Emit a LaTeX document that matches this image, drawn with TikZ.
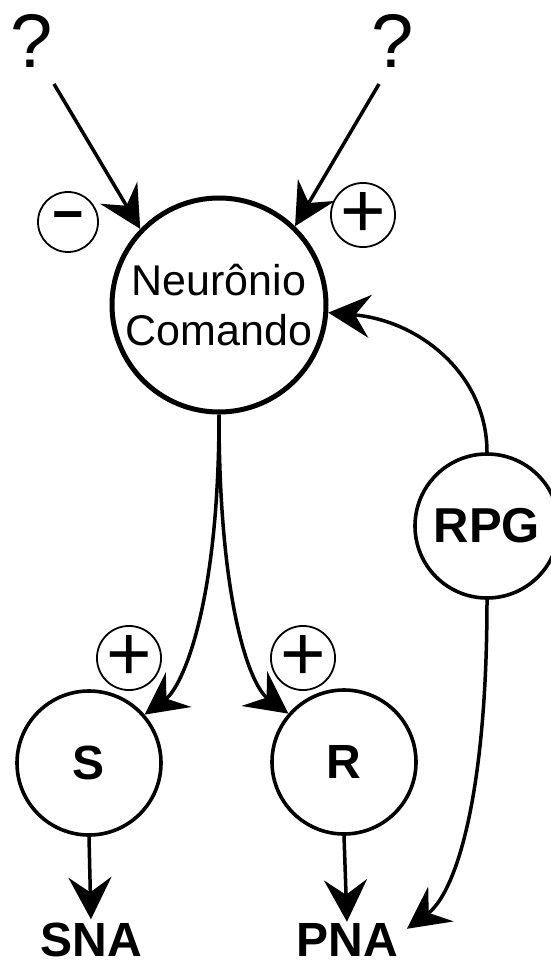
\documentclass[tikz,border=0pt]{standalone}
\usepackage{fontspec}
\setmainfont{Liberation Sans}
\usetikzlibrary{arrows.meta,calc}
\begin{document}
\begin{tikzpicture}[x=1pt,y=1pt,
  arr/.style={line width=3.5pt,-{Stealth[length=42pt,width=43pt,inset=15pt]}},
  bigcirc/.style={circle,draw,line width=3.6pt,inner sep=0pt,minimum size=144pt,font=\fontsize{48}{48}\bfseries\selectfont},
  signcirc/.style={circle,draw,line width=1.8pt,inner sep=0pt,minimum size=60pt,font=\fontsize{78}{78}\selectfont},
  qmark/.style={inner sep=0pt,font=\fontsize{76}{76}\selectfont},
  outlabel/.style={inner sep=0pt,anchor=base,font=\fontsize{48}{48}\bfseries\selectfont}
]
\useasboundingbox (0,0) rectangle (550,-968);

% question marks
\node[qmark] (q1) at (32,-41) {?};
\node[qmark] (q2) at (393,-41) {?};
\coordinate (q1s) at (54,-84);
\coordinate (q2s) at (379,-84);

% main neuron
\node[circle,draw,line width=5pt,inner sep=0pt,minimum size=214pt,align=center,
      font=\fontsize{43}{50}\selectfont] (main) at (219,-305) {Neurônio\\Comando};

% sign circles
\node[signcirc,font=\fontsize{54}{54}\bfseries\selectfont] (minus) at (68,-222) {−};
\node[signcirc] (plus1) at (363,-215) {+};
\node[signcirc] (plus2) at (129,-658) {+};
\node[signcirc] (plus3) at (303,-658) {+};

% other neurons
\node[bigcirc,font=\fontsize{49}{49}\bfseries\selectfont] (RPG) at (487,-526) {RPG};
\node[bigcirc] (S) at (89,-763) {S};
\node[bigcirc] (R) at (344,-762) {R};

% outputs
\node[outlabel] (SNA) at (91,-956) {SNA};
\node[outlabel] (PNA) at (347,-956) {PNA};

% connectors
\draw[arr] (q1s) -- (main.136);
\draw[arr] (q2s) -- (main.46);
\draw[arr] (main.south) .. controls +(0,-190) and +(38,28) .. (S.41);
\draw[arr] (main.south) .. controls +(0,-190) and +(-38,28) .. (R.139);
\draw[arr] (RPG.north) .. controls +(0,77) and +(92,-8) .. (main.-4);
\draw[arr] (RPG.south) .. controls +(0,-200) and +(48,35) .. ($(PNA.north east)+(9,-6)$);
\draw[arr,shorten >=3pt] (S.south) -- (SNA.north);
\draw[arr,shorten >=1pt] (R.south) -- (PNA.north);
\end{tikzpicture}
\end{document}
